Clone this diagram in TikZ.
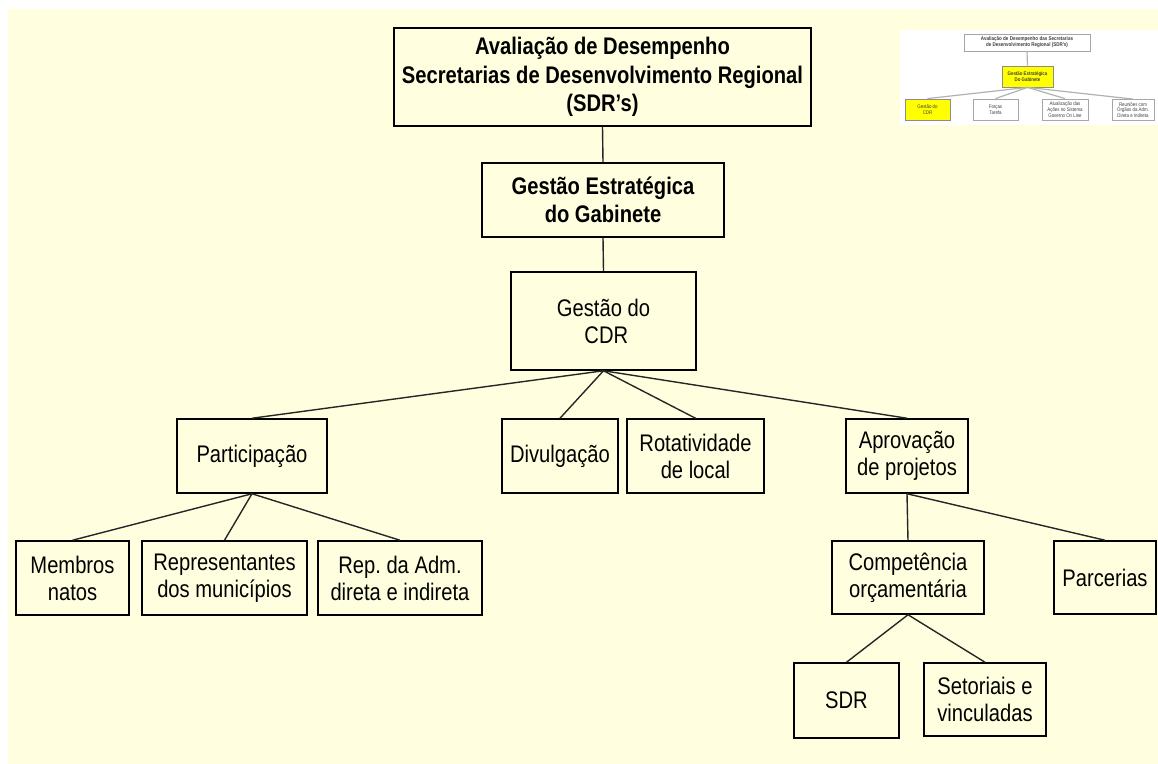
\documentclass[tikz,border=0pt]{standalone}
\usepackage{fontspec}
\setmainfont{Liberation Sans}[FakeStretch=0.84]
\usetikzlibrary{shadows}
\definecolor{bgyellow}{RGB}{255,255,224}
\definecolor{hiyellow}{RGB}{255,255,0}
\frenchspacing
\begin{document}
\begin{tikzpicture}[x=0.5pt,y=-0.5pt,
  box/.style={draw=black, line width=0.75pt, fill=bgyellow, inner sep=0pt, align=center,
    font=\fontsize{12}{13.5}\selectfont,
    general shadow={fill=black!40, shadow xshift=0.6pt, shadow yshift=-0.6pt}},
  boldbox/.style={box, font=\fontsize{12}{14.3}\selectfont\bfseries},
  conn/.style={draw=black!85, line width=0.7pt},
  tbox/.style={draw=black!35, line width=0.4pt, fill=white, inner sep=0pt, align=center,
    text=black!75, font=\fontsize{2.6}{2.9}\selectfont,
    general shadow={fill=black!15, shadow xshift=0.4pt, shadow yshift=-0.4pt}},
  thl/.style={tbox, fill=hiyellow, draw=black!45},
  tconn/.style={draw=black!30, line width=0.6pt}]
\useasboundingbox (0,0) rectangle (1158,764);
\fill[white] (0,0) rectangle (1158,764);
\fill[bgyellow] (8,9) rectangle (1158,764);

% thumbnail
\fill[white] (900,30) rectangle (1158,125);
\node[tbox, font=\fontsize{2.7}{3}\selectfont\bfseries, minimum width=63pt, minimum height=8.5pt] (ttop) at (1027,42.5) {Avaliação de Desempenho das Secretarias\\de Desenvolvimento Regional (SDR’s)};
\node[thl, font=\fontsize{2.6}{3}\selectfont\bfseries, minimum width=25.5pt, minimum height=10.5pt] (tgest) at (1027.5,76.5) {Gestão Estratégica\\Do Gabinete};
\node[thl, minimum width=22.5pt, minimum height=10.5pt] (tcdr) at (927.5,109.5) {Gestão do\\CDR};
\node[tbox, minimum width=22.5pt, minimum height=10.5pt] (tforca) at (995.5,109.5) {Forças\\Tarefa};
\node[tbox, minimum width=23pt, minimum height=10.5pt] (tatual) at (1065,109.5) {Atualização das\\Ações no Sistema\\Governo On Line};
\node[tbox, minimum width=21pt, minimum height=10.5pt] (treun) at (1133,110) {Reuniões com\\Órgãos da Adm.\\Direta e Indireta};
\draw[tconn] (ttop.south) -- (tgest.north);
\foreach \c in {tcdr,tforca,tatual,treun} \draw[tconn] (tgest.south) -- (\c.north);

% main chart
\node[boldbox, minimum width=208.5pt, minimum height=49pt] (top) at (602.5,77) {Avaliação de Desempenho\\Secretarias de Desenvolvimento Regional\\(SDR’s)};
\node[boldbox, minimum width=121pt, minimum height=37pt] (gest) at (603,200) {Gestão Estratégica\\do Gabinete};
\node[box, minimum width=92.5pt, minimum height=49pt] (cdr) at (603.5,321) {Gestão do\\\ CDR};
\node[box, minimum width=75pt, minimum height=37pt] (part) at (252,456) {Participação};
\node[box, minimum width=58pt, minimum height=37pt] (div) at (560,456) {Divulgação};
\node[box, minimum width=68.5pt, minimum height=37pt] (rot) at (695.5,456) {Rotatividade\\de local};
\node[box, minimum width=61pt, minimum height=37pt] (apr) at (907,456) {Aprovação\\de projetos};
\node[box, minimum width=56.5pt, minimum height=37pt] (memb) at (72.5,578) {Membros\\natos};
\node[box, minimum width=82.5pt, minimum height=37pt] (repr) at (224.5,578) {Representantes\\dos municípios};
\node[box, minimum width=82pt, minimum height=37pt] (rep) at (400,578) {Rep. da Adm.\\direta e indireta};
\node[box, minimum width=76pt, minimum height=36.5pt] (comp) at (908,577.5) {Competência\\orçamentária};
\node[box, minimum width=51pt, minimum height=36.5pt] (parc) at (1105,577.5) {Parcerias};
\node[box, minimum width=52.5pt, minimum height=37.5pt] (sdr) at (846.5,700.5) {SDR};
\node[box, minimum width=61pt, minimum height=36.5pt] (set) at (985,699.5) {Setoriais e\\vinculadas};

\draw[conn] (top.south) -- (gest.north);
\draw[conn] (gest.south) -- (cdr.north);
\foreach \c in {part,div,rot,apr} \draw[conn] (cdr.south) -- (\c.north);
\foreach \c in {memb,repr,rep} \draw[conn] (part.south) -- (\c.north);
\foreach \c in {comp,parc} \draw[conn] (apr.south) -- (\c.north);
\foreach \c in {sdr,set} \draw[conn] (comp.south) -- (\c.north);
\end{tikzpicture}
\end{document}
